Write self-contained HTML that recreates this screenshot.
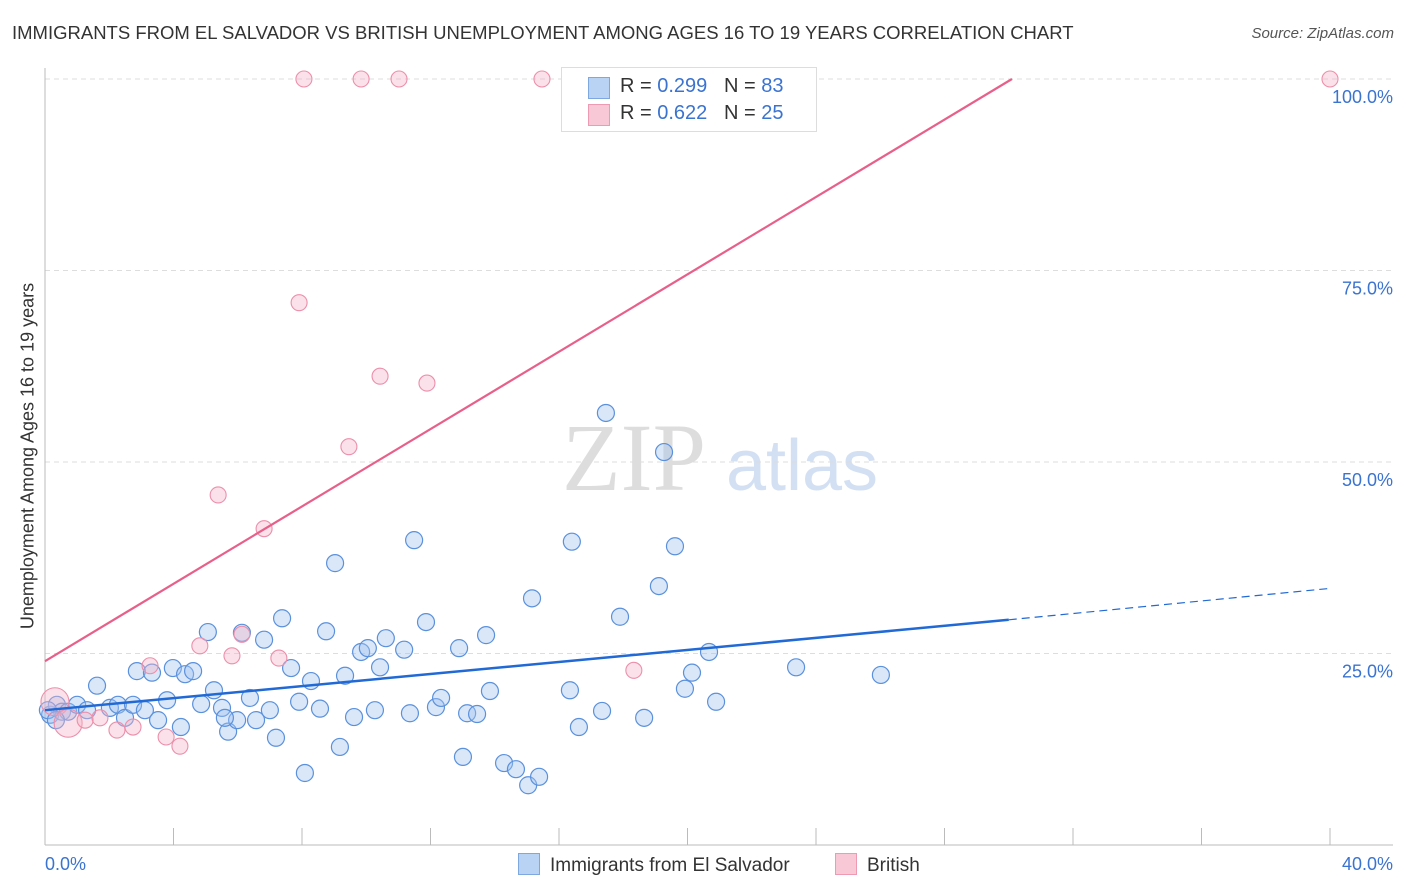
<!DOCTYPE html>
<html><head><meta charset="utf-8"><style>
body{margin:0;background:#fff;font-family:"Liberation Sans",sans-serif;}
#wrap{position:relative;width:1406px;height:892px;overflow:hidden}
.t{position:absolute;white-space:nowrap}
</style></head><body><div id="wrap">
<div class="t" style="left:12px;top:22px;font-size:18.5px;color:#333">IMMIGRANTS FROM EL SALVADOR VS BRITISH UNEMPLOYMENT AMONG AGES 16 TO 19 YEARS CORRELATION CHART</div>
<div class="t" style="right:12px;top:25px;font-size:15px;color:#555;font-style:italic">Source: ZipAtlas.com</div>
<svg id="svg" width="1406" height="892" style="position:absolute;left:0;top:0">
<text x="634" y="490" font-size="96" fill="#ddd" text-anchor="middle" font-family="Liberation Serif">ZIP</text>
<text x="802" y="490" font-size="72" fill="#d3e0f3" text-anchor="middle">atlas</text>
<g id="grid"></g><g id="pts"></g><g id="lines"></g>
</svg>
<div class="t" style="left:28px;top:456px;font-size:18px;color:#333;transform:translate(-50%,-50%) rotate(-90deg)">Unemployment Among Ages 16 to 19 years</div>
<div style="position:absolute;left:561px;top:67px;width:254px;height:63px;border:1px solid #ddd;background:#fff;font-size:20px;color:#333">
<div style="position:absolute;left:26px;top:9px;width:20px;height:20px;background:#b9d3f5;border:1px solid #7fa8e0"></div>
<div class="t" style="left:58px;top:7px">R = <span style="color:#3a73d0">0.299</span>&nbsp;&nbsp;&nbsp;N = <span style="color:#3a73d0">83</span></div>
<div style="position:absolute;left:26px;top:36px;width:20px;height:20px;background:#f9c8d6;border:1px solid #ee9ab3"></div>
<div class="t" style="left:58px;top:34px">R = <span style="color:#3a73d0">0.622</span>&nbsp;&nbsp;&nbsp;N = <span style="color:#3a73d0">25</span></div>
</div>
<div style="position:absolute;left:518px;top:853px;font-size:19px;color:#333"><span style="display:inline-block;width:20px;height:20px;background:#b9d3f5;border:1px solid #7fa8e0;vertical-align:-4px;margin-right:10px"></span>Immigrants from El Salvador</div>
<div style="position:absolute;left:835px;top:853px;font-size:19px;color:#333"><span style="display:inline-block;width:20px;height:20px;background:#f9c8d6;border:1px solid #ee9ab3;vertical-align:-4px;margin-right:10px"></span>British</div>
</div>
<script>
const xTicksPct=[0,40];
const yTicks=[25,50,75,100];
const bluePx=[[50,715],[57,705],[62,712],[68,712],[77,705],[87,710],[97,686],[110,708],[118,705],[125,718],[133,705],[137,671],[145,710],[152,673],[158,720],[167,700],[173,668],[181,727],[185,674],[193,671],[201,704],[208,632],[214,690],[222,708],[228,732],[237,720],[242,633],[250,698],[256,720],[264,640],[270,710],[276,738],[282,618],[291,668],[299,702],[305,773],[311,681],[320,709],[326,631],[335,563],[340,747],[345,676],[354,717],[361,652],[368,648],[375,710],[380,667],[386,638],[404,650],[410,713],[414,540],[426,622],[436,707],[441,698],[459,648],[463,757],[467,713],[477,714],[486,635],[490,691],[504,763],[516,769],[528,785],[532,598],[539,777],[570,690],[572,542],[579,727],[602,711],[620,617],[644,718],[659,586],[664,452],[675,546],[685,689],[692,673],[709,652],[716,702],[796,667],[881,675],[606,413],[48,710],[56,720],[225,718]];
const pinkPx=[[304,79],[361,79],[399,79],[542,79],[1330,79],[299,303],[380,376],[427,383],[349,447],[218,495],[264,529],[242,634],[200,646],[232,656],[279,658],[150,666],[634,670],[55,702],[68,723],[85,720],[117,730],[133,727],[166,737],[180,746],[100,718]];
const blueX=bluePx.map(p=>+((p[0]-45)/1285*40).toFixed(2)), blueY=bluePx.map(p=>+((845-p[1])/766*100).toFixed(1));
const pinkX=pinkPx.map(p=>+((p[0]-45)/1285*40).toFixed(2)), pinkY=pinkPx.map(p=>+((845-p[1])/766*100).toFixed(1));
const blueFit=[17.6,29.4,33.5];
const pinkFit=[24.0,100];
const X=v=>45+v/40*1285, Y=v=>845-v/100*766;
const NS="http://www.w3.org/2000/svg";
function mk(t,a,p){const e=document.createElementNS(NS,t);for(const k in a)e.setAttribute(k,a[k]);p.appendChild(e);return e;}
const g=document.getElementById('grid');
yTicks.forEach(t=>{const l=mk('line',{x1:45,x2:1393,y1:Y(t),y2:Y(t),stroke:'#ddd','stroke-dasharray':'5,4'},g);


const tx=mk('text',{x:1393,y:Y(t)+24,'text-anchor':'end','font-size':18,fill:'#3a73d0'},g);tx.textContent=t.toFixed(1)+'%';

});
mk('line',{x1:45,x2:45,y1:68,y2:845,stroke:'#bbb'},g);
mk('line',{x1:45,x2:1393,y1:845,y2:845,stroke:'#bbb'},g);
for(let i=0;i<=10;i++){mk('line',{x1:45+i*128.5,x2:45+i*128.5,y1:828,y2:845,stroke:'#bbb'},g);}
xTicksPct.forEach((t,i)=>{const tx=mk('text',{x:i?1393:45,y:870,'text-anchor':i?'end':'start','font-size':18,fill:'#3a73d0'},g);tx.textContent=t.toFixed(1)+'%';

});
const P=document.getElementById('pts');
blueX.forEach((x,i)=>{const c=mk('circle',{cx:X(x),cy:Y(blueY[i]),r:8.5,fill:'rgba(160,196,240,0.4)',stroke:'#5b91dc','stroke-width':1.2},P);

});
pinkX.forEach((x,i)=>{const big=i==17||i==18;const c=mk('circle',{cx:X(x),cy:Y(pinkY[i]),r:big?14:8,fill:'rgba(246,180,200,0.4)',stroke:'#ec8fab','stroke-width':1.1},P);

});
const L=document.getElementById('lines');
const b1=mk('line',{x1:X(0),y1:Y(blueFit[0]),x2:X(30),y2:Y(blueFit[1]),stroke:'#2169d4','stroke-width':2.5},L);


const b2=mk('line',{x1:X(30),y1:Y(blueFit[1]),x2:X(40),y2:Y(blueFit[2]),stroke:'#2169d4','stroke-width':1.2,'stroke-dasharray':'8,5'},L);


const p1=mk('line',{x1:X(0),y1:Y(pinkFit[0]),x2:X(30.1),y2:Y(pinkFit[1]),stroke:'#e8608a','stroke-width':2.2},L);


</script></body></html>
